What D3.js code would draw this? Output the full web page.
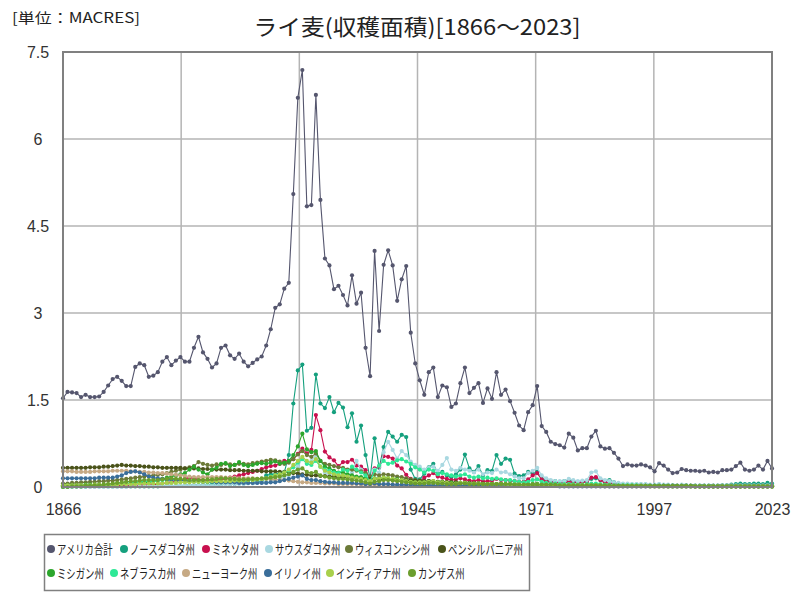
<!DOCTYPE html>
<html><head><meta charset="utf-8">
<script src="https://cdn.jsdelivr.net/npm/d3@7/dist/d3.min.js"></script>
<style>body{margin:0;background:#fff;} svg{display:block;font-family:"Noto Sans CJK JP","Noto Sans",sans-serif;}</style>
</head><body>
<svg id="chart" width="800" height="600"></svg>
<script>
const years = d3.range(1866, 2024);
const titleText = "ライ麦(収穫面積)[1866～2023]";
const unitText = "[単位：MACRES]";
const yTickValues = [0, 1.5, 3, 4.5, 6, 7.5];
const xTickLabels = ["1866","1892","1918","1945","1971","1997","2023"];
const seriesNames = ["アメリカ合計","ノースダコタ州","ミネソタ州","サウスダコタ州","ウィスコンシン州","ペンシルバニア州","ミシガン州","ネブラスカ州","ニューヨーク州","イリノイ州","インディアナ州","カンザス州"];
const seriesColors = ["#55566e","#15a07e","#c8104e","#a9d8e1","#6c7a38","#4a531a","#2ca62c","#2ee896","#c6a984","#3a6e9a","#a8d04c","#6c9e2e"];

const usTotal = [
1.53,1.64,1.63,1.62,1.55,1.59,1.55,1.55,1.56,1.64,
1.75,1.86,1.90,1.83,1.74,1.74,2.07,2.13,2.10,1.90,
1.92,1.98,2.16,2.24,2.10,2.18,2.24,2.16,2.16,2.40,
2.59,2.32,2.21,2.06,2.13,2.40,2.44,2.27,2.21,2.30,
2.16,2.08,2.14,2.20,2.25,2.44,2.72,3.09,3.15,3.42,
3.52,5.05,6.71,7.19,4.84,4.86,6.76,4.95,3.94,3.82,
3.41,3.47,3.31,3.13,3.65,3.16,3.35,2.40,1.91,4.07,
2.69,3.83,4.08,3.82,3.21,3.58,3.81,2.66,2.13,1.84,
1.59,1.98,2.06,1.55,1.75,1.72,1.38,1.44,1.79,2.06,
1.62,1.71,1.79,1.45,1.70,1.52,1.98,1.59,1.68,1.48,
1.28,1.06,0.98,1.29,1.41,1.74,1.05,0.95,0.78,0.74,
0.72,0.68,0.92,0.85,0.63,0.67,0.67,0.87,0.97,0.70,
0.66,0.67,0.59,0.49,0.36,0.39,0.37,0.37,0.39,0.37,
0.34,0.27,0.41,0.37,0.30,0.24,0.25,0.31,0.29,0.28,
0.28,0.27,0.28,0.25,0.26,0.25,0.29,0.29,0.30,0.36,
0.42,0.30,0.28,0.30,0.37,0.30,0.45,0.32];

const northDakota = [
0.01,0.01,0.01,0.01,0.01,0.01,0.01,0.01,0.01,0.01,
0.01,0.01,0.01,0.01,0.01,0.01,0.01,0.01,0.01,0.01,
0.01,0.01,0.02,0.02,0.02,0.02,0.02,0.03,0.03,0.03,
0.03,0.03,0.03,0.04,0.04,0.04,0.05,0.05,0.05,0.06,
0.06,0.07,0.07,0.08,0.10,0.20,0.22,0.22,0.24,0.25,
0.55,1.44,2.01,2.11,0.97,1.02,1.94,1.44,1.36,1.55,
1.29,1.45,1.37,1.03,1.27,0.78,1.06,0.55,0.14,0.84,
0.33,0.69,0.95,0.87,0.78,0.90,0.86,0.30,0.14,0.13,
0.23,0.34,0.40,0.23,0.26,0.20,0.17,0.22,0.30,0.56,
0.32,0.26,0.36,0.20,0.29,0.28,0.55,0.40,0.49,0.47,
0.23,0.19,0.20,0.26,0.23,0.26,0.14,0.12,0.10,0.10,
0.09,0.10,0.12,0.10,0.08,0.09,0.10,0.14,0.15,0.12,
0.10,0.12,0.08,0.05,0.04,0.04,0.04,0.04,0.04,0.04,
0.03,0.03,0.04,0.03,0.03,0.03,0.02,0.03,0.03,0.02,
0.02,0.02,0.02,0.02,0.02,0.02,0.03,0.03,0.04,0.05,
0.06,0.05,0.05,0.06,0.06,0.05,0.07,0.06];

const minnesota = [
0.01,0.01,0.01,0.01,0.01,0.01,0.01,0.01,0.02,0.02,
0.02,0.02,0.02,0.02,0.02,0.02,0.03,0.03,0.03,0.04,
0.04,0.05,0.06,0.07,0.08,0.10,0.12,0.14,0.16,0.15,
0.13,0.11,0.10,0.11,0.12,0.13,0.14,0.16,0.18,0.20,
0.22,0.24,0.26,0.28,0.31,0.34,0.36,0.37,0.40,0.45,
0.45,0.48,0.57,0.66,0.58,0.64,1.24,0.98,0.61,0.51,
0.46,0.36,0.43,0.43,0.47,0.37,0.35,0.29,0.13,0.32,
0.35,0.53,0.52,0.49,0.37,0.32,0.21,0.14,0.09,0.09,
0.16,0.20,0.24,0.18,0.16,0.14,0.12,0.13,0.15,0.13,
0.11,0.10,0.12,0.10,0.10,0.11,0.14,0.12,0.12,0.11,
0.10,0.09,0.09,0.13,0.20,0.24,0.13,0.10,0.08,0.08,
0.07,0.07,0.09,0.08,0.07,0.08,0.09,0.16,0.17,0.12,
0.08,0.07,0.05,0.04,0.03,0.03,0.03,0.03,0.03,0.03,
0.02,0.02,0.02,0.02,0.02,0.02,0.02,0.02,0.02,0.02,
0.02,0.02,0.02,0.02,0.02,0.02,0.02,0.02,0.02,0.02,
0.02,0.02,0.02,0.02,0.02,0.02,0.02,0.02];

const southDakota = [
0.00,0.00,0.00,0.00,0.00,0.00,0.00,0.00,0.00,0.00,
0.00,0.00,0.00,0.00,0.00,0.01,0.01,0.01,0.01,0.02,
0.02,0.02,0.02,0.02,0.02,0.03,0.03,0.03,0.03,0.03,
0.03,0.03,0.03,0.03,0.04,0.04,0.04,0.05,0.05,0.05,
0.05,0.06,0.06,0.07,0.08,0.09,0.10,0.12,0.14,0.18,
0.20,0.25,0.35,0.49,0.40,0.45,0.55,0.35,0.25,0.22,
0.18,0.20,0.22,0.20,0.25,0.45,0.30,0.18,0.08,0.30,
0.25,0.60,0.78,0.64,0.49,0.62,0.55,0.44,0.38,0.35,
0.30,0.33,0.35,0.28,0.38,0.50,0.30,0.28,0.33,0.30,
0.28,0.25,0.30,0.22,0.25,0.24,0.30,0.25,0.26,0.22,
0.18,0.15,0.15,0.24,0.28,0.33,0.20,0.15,0.12,0.10,
0.10,0.10,0.14,0.12,0.10,0.11,0.12,0.25,0.27,0.15,
0.12,0.10,0.08,0.07,0.06,0.06,0.05,0.05,0.05,0.05,
0.04,0.04,0.05,0.04,0.04,0.03,0.03,0.04,0.03,0.03,
0.03,0.03,0.03,0.03,0.03,0.03,0.03,0.03,0.03,0.03,
0.03,0.03,0.03,0.03,0.03,0.03,0.03,0.03];

const wisconsin = [
0.06,0.06,0.07,0.07,0.08,0.08,0.09,0.09,0.10,0.10,
0.11,0.11,0.12,0.13,0.14,0.15,0.16,0.17,0.18,0.19,
0.20,0.21,0.22,0.24,0.26,0.28,0.30,0.32,0.34,0.36,
0.43,0.40,0.38,0.37,0.39,0.38,0.40,0.39,0.38,0.40,
0.40,0.39,0.41,0.42,0.44,0.45,0.47,0.46,0.44,0.40,
0.42,0.48,0.56,0.62,0.55,0.52,0.58,0.45,0.40,0.38,
0.36,0.34,0.33,0.30,0.30,0.28,0.27,0.24,0.18,0.22,
0.20,0.22,0.21,0.20,0.18,0.17,0.15,0.13,0.12,0.11,
0.10,0.10,0.10,0.09,0.09,0.08,0.08,0.07,0.07,0.07,
0.06,0.06,0.06,0.05,0.05,0.05,0.05,0.05,0.04,0.04,
0.04,0.04,0.04,0.04,0.05,0.05,0.04,0.04,0.03,0.03,
0.03,0.03,0.03,0.03,0.03,0.03,0.03,0.03,0.03,0.03,
0.03,0.03,0.02,0.02,0.02,0.02,0.02,0.02,0.02,0.02,
0.02,0.02,0.02,0.02,0.02,0.02,0.02,0.02,0.02,0.02,
0.01,0.01,0.01,0.01,0.01,0.01,0.01,0.01,0.01,0.01,
0.01,0.01,0.01,0.01,0.01,0.01,0.01,0.01];

const pennsylvania = [
0.33,0.33,0.33,0.33,0.33,0.33,0.34,0.34,0.34,0.35,
0.35,0.36,0.37,0.38,0.37,0.37,0.36,0.36,0.35,0.35,
0.34,0.34,0.33,0.33,0.33,0.33,0.33,0.32,0.32,0.32,
0.32,0.31,0.31,0.30,0.30,0.30,0.30,0.29,0.29,0.29,
0.28,0.28,0.28,0.28,0.27,0.27,0.27,0.27,0.26,0.26,
0.25,0.24,0.23,0.22,0.21,0.20,0.20,0.19,0.19,0.18,
0.18,0.17,0.17,0.16,0.16,0.15,0.15,0.14,0.14,0.14,
0.13,0.13,0.13,0.12,0.12,0.12,0.11,0.11,0.11,0.10,
0.10,0.10,0.09,0.09,0.09,0.08,0.08,0.08,0.07,0.07,
0.07,0.06,0.06,0.06,0.05,0.05,0.05,0.05,0.04,0.04,
0.04,0.04,0.04,0.03,0.03,0.03,0.03,0.03,0.03,0.03,
0.03,0.03,0.03,0.03,0.03,0.03,0.03,0.03,0.03,0.03,
0.02,0.02,0.02,0.02,0.02,0.02,0.02,0.02,0.02,0.02,
0.02,0.02,0.02,0.02,0.02,0.02,0.02,0.02,0.02,0.02,
0.02,0.02,0.02,0.02,0.02,0.02,0.02,0.02,0.02,0.02,
0.02,0.02,0.02,0.02,0.02,0.02,0.02,0.02];

const michigan = [
0.03,0.03,0.03,0.03,0.03,0.04,0.04,0.04,0.04,0.04,
0.04,0.05,0.05,0.05,0.06,0.06,0.07,0.07,0.08,0.08,
0.10,0.12,0.14,0.16,0.18,0.20,0.22,0.24,0.30,0.35,
0.30,0.25,0.22,0.30,0.33,0.40,0.41,0.36,0.38,0.43,
0.38,0.36,0.38,0.40,0.41,0.40,0.42,0.44,0.40,0.42,
0.45,0.55,0.70,0.92,0.65,0.60,0.62,0.45,0.35,0.32,
0.28,0.25,0.25,0.22,0.20,0.18,0.17,0.15,0.10,0.15,
0.14,0.16,0.15,0.14,0.13,0.12,0.10,0.09,0.08,0.08,
0.08,0.09,0.09,0.08,0.08,0.07,0.07,0.06,0.07,0.07,
0.06,0.06,0.06,0.05,0.05,0.05,0.05,0.05,0.05,0.05,
0.05,0.04,0.04,0.04,0.05,0.05,0.04,0.04,0.03,0.03,
0.03,0.03,0.03,0.03,0.03,0.03,0.03,0.03,0.03,0.03,
0.02,0.02,0.02,0.02,0.02,0.02,0.02,0.02,0.02,0.02,
0.02,0.02,0.02,0.02,0.01,0.01,0.01,0.01,0.01,0.01,
0.01,0.01,0.01,0.01,0.01,0.01,0.01,0.01,0.01,0.01,
0.01,0.01,0.01,0.01,0.01,0.01,0.01,0.01];

const nebraska = [
0.00,0.00,0.01,0.01,0.01,0.01,0.02,0.02,0.02,0.03,
0.03,0.04,0.05,0.06,0.07,0.07,0.08,0.09,0.10,0.10,
0.10,0.11,0.12,0.12,0.13,0.12,0.12,0.11,0.10,0.10,
0.09,0.09,0.08,0.08,0.08,0.08,0.09,0.09,0.10,0.10,
0.10,0.11,0.12,0.12,0.13,0.15,0.18,0.20,0.22,0.25,
0.28,0.34,0.42,0.48,0.40,0.38,0.45,0.35,0.30,0.28,
0.25,0.24,0.30,0.28,0.35,0.30,0.25,0.20,0.10,0.28,
0.37,0.45,0.40,0.42,0.46,0.48,0.44,0.40,0.34,0.30,
0.25,0.30,0.28,0.22,0.24,0.22,0.20,0.18,0.20,0.22,
0.18,0.16,0.18,0.15,0.16,0.14,0.15,0.13,0.12,0.12,
0.10,0.09,0.08,0.09,0.12,0.13,0.09,0.07,0.06,0.06,
0.05,0.05,0.05,0.05,0.04,0.04,0.05,0.06,0.06,0.05,
0.04,0.04,0.03,0.03,0.03,0.03,0.03,0.03,0.02,0.02,
0.02,0.02,0.02,0.02,0.02,0.02,0.02,0.02,0.02,0.02,
0.02,0.02,0.02,0.02,0.02,0.02,0.02,0.02,0.02,0.02,
0.02,0.02,0.02,0.02,0.02,0.02,0.02,0.02];

const newYork = [
0.27,0.27,0.27,0.26,0.26,0.26,0.26,0.27,0.27,0.27,
0.27,0.28,0.28,0.28,0.28,0.27,0.27,0.26,0.26,0.25,
0.25,0.24,0.24,0.23,0.22,0.21,0.20,0.19,0.18,0.17,
0.17,0.17,0.17,0.17,0.17,0.17,0.16,0.16,0.16,0.15,
0.15,0.15,0.15,0.14,0.14,0.14,0.13,0.13,0.12,0.12,
0.11,0.10,0.09,0.08,0.08,0.07,0.07,0.07,0.06,0.06,
0.06,0.05,0.05,0.05,0.05,0.05,0.04,0.04,0.04,0.04,
0.04,0.04,0.04,0.04,0.03,0.03,0.03,0.03,0.03,0.03,
0.03,0.03,0.03,0.03,0.03,0.03,0.03,0.03,0.03,0.03,
0.02,0.02,0.02,0.02,0.02,0.02,0.02,0.02,0.02,0.02,
0.02,0.02,0.02,0.02,0.02,0.02,0.02,0.02,0.02,0.02,
0.02,0.02,0.02,0.02,0.02,0.02,0.02,0.02,0.02,0.02,
0.01,0.01,0.01,0.01,0.01,0.01,0.01,0.01,0.01,0.01,
0.01,0.01,0.01,0.01,0.01,0.01,0.01,0.01,0.01,0.01,
0.01,0.01,0.01,0.01,0.01,0.01,0.01,0.01,0.01,0.01,
0.01,0.01,0.01,0.01,0.01,0.01,0.01,0.01];

const illinois = [
0.15,0.15,0.15,0.15,0.15,0.15,0.15,0.15,0.16,0.16,
0.16,0.16,0.18,0.20,0.24,0.26,0.27,0.25,0.22,0.18,
0.16,0.15,0.14,0.13,0.12,0.12,0.11,0.11,0.10,0.10,
0.10,0.09,0.09,0.09,0.08,0.08,0.08,0.08,0.08,0.07,
0.07,0.07,0.07,0.07,0.07,0.07,0.08,0.08,0.10,0.12,
0.14,0.16,0.18,0.20,0.14,0.12,0.12,0.10,0.09,0.08,
0.08,0.07,0.07,0.07,0.07,0.06,0.06,0.05,0.05,0.06,
0.05,0.05,0.05,0.04,0.04,0.04,0.04,0.04,0.03,0.03,
0.03,0.03,0.03,0.03,0.03,0.03,0.03,0.03,0.03,0.03,
0.03,0.03,0.03,0.02,0.02,0.02,0.02,0.02,0.02,0.02,
0.02,0.02,0.02,0.02,0.02,0.02,0.02,0.02,0.02,0.02,
0.01,0.01,0.01,0.01,0.01,0.01,0.01,0.01,0.01,0.01,
0.01,0.01,0.01,0.01,0.01,0.01,0.01,0.01,0.01,0.01,
0.01,0.01,0.01,0.01,0.01,0.01,0.01,0.01,0.01,0.01,
0.01,0.01,0.01,0.01,0.01,0.01,0.01,0.01,0.01,0.01,
0.01,0.01,0.01,0.01,0.01,0.01,0.01,0.01];

const indiana = [
0.03,0.03,0.03,0.03,0.03,0.03,0.03,0.04,0.04,0.04,
0.04,0.04,0.04,0.05,0.05,0.05,0.05,0.06,0.06,0.06,
0.06,0.06,0.06,0.07,0.07,0.07,0.08,0.08,0.08,0.09,
0.09,0.09,0.09,0.10,0.10,0.10,0.10,0.10,0.11,0.11,
0.11,0.12,0.12,0.13,0.14,0.15,0.17,0.20,0.22,0.25,
0.30,0.38,0.45,0.52,0.45,0.42,0.48,0.35,0.28,0.25,
0.22,0.20,0.20,0.18,0.16,0.15,0.14,0.12,0.10,0.14,
0.14,0.16,0.15,0.14,0.12,0.12,0.10,0.09,0.08,0.08,
0.08,0.09,0.10,0.08,0.08,0.07,0.06,0.06,0.07,0.07,
0.06,0.06,0.06,0.05,0.05,0.05,0.05,0.05,0.04,0.04,
0.04,0.04,0.03,0.03,0.04,0.04,0.03,0.03,0.03,0.03,
0.03,0.03,0.03,0.03,0.03,0.03,0.03,0.03,0.03,0.03,
0.02,0.02,0.02,0.02,0.02,0.02,0.02,0.02,0.02,0.02,
0.01,0.01,0.01,0.01,0.01,0.01,0.01,0.01,0.01,0.01,
0.01,0.01,0.01,0.01,0.01,0.01,0.01,0.01,0.01,0.01,
0.01,0.01,0.01,0.01,0.01,0.01,0.01,0.01];

const kansas = [
0.00,0.00,0.01,0.01,0.01,0.02,0.02,0.03,0.03,0.04,
0.05,0.06,0.07,0.08,0.09,0.10,0.10,0.11,0.12,0.12,
0.12,0.12,0.13,0.14,0.15,0.14,0.14,0.13,0.12,0.12,
0.12,0.12,0.13,0.13,0.14,0.15,0.15,0.14,0.14,0.13,
0.13,0.13,0.14,0.14,0.15,0.15,0.16,0.17,0.18,0.20,
0.22,0.26,0.30,0.32,0.26,0.24,0.26,0.20,0.18,0.16,
0.15,0.14,0.14,0.13,0.12,0.11,0.10,0.08,0.06,0.09,
0.10,0.12,0.12,0.11,0.10,0.09,0.08,0.07,0.06,0.06,
0.06,0.07,0.07,0.06,0.06,0.05,0.05,0.05,0.06,0.06,
0.05,0.05,0.05,0.05,0.05,0.05,0.05,0.05,0.05,0.05,
0.04,0.04,0.04,0.04,0.04,0.04,0.04,0.04,0.04,0.04,
0.03,0.03,0.03,0.03,0.03,0.03,0.03,0.03,0.03,0.03,
0.03,0.03,0.02,0.02,0.02,0.02,0.02,0.02,0.02,0.02,
0.02,0.02,0.02,0.02,0.02,0.02,0.02,0.02,0.02,0.02,
0.01,0.01,0.01,0.01,0.01,0.01,0.01,0.01,0.01,0.01,
0.01,0.01,0.01,0.01,0.01,0.01,0.01,0.01];

const seriesValues = [usTotal, northDakota, minnesota, southDakota, wisconsin, pennsylvania, michigan, nebraska, newYork, illinois, indiana, kansas];

const svg = d3.select("#chart");
const plotLeft = 63, plotRight = 772, plotTop = 52, plotBottom = 487;
const x = d3.scaleLinear().domain([1866, 2023]).range([plotLeft, plotRight]);
const y = d3.scaleLinear().domain([0, 7.5]).range([plotBottom, plotTop]);
const xTickValues = xTickLabels.map((d, i) => 1866 + i * (2023 - 1866) / 6);

svg.append("rect").attr("width", 800).attr("height", 600).attr("fill", "#fff");

// gridlines
const grid = svg.append("g");
grid.selectAll("line.v").data(xTickValues.slice(1, -1)).join("line").attr("class", "v")
  .attr("x1", d => x(d)).attr("x2", d => x(d)).attr("y1", plotTop).attr("y2", plotBottom)
  .attr("stroke", "#b4b4b4").attr("stroke-width", 1.5);
grid.selectAll("line.h").data(yTickValues.slice(1, -1)).join("line").attr("class", "h")
  .attr("x1", plotLeft).attr("x2", plotRight).attr("y1", d => y(d)).attr("y2", d => y(d))
  .attr("stroke", "#b4b4b4").attr("stroke-width", 1.5);

// series
const line = d3.line().x((d, i) => x(years[i])).y(d => y(d));
seriesValues.forEach((vals, si) => {
  const g = svg.append("g");
  g.append("path").datum(vals).attr("d", line).attr("fill", "none")
    .attr("stroke", seriesColors[si]).attr("stroke-width", 1.1);
  g.selectAll("circle").data(vals).join("circle")
    .attr("cx", (d, i) => x(years[i])).attr("cy", d => y(d)).attr("r", 2.1)
    .attr("fill", seriesColors[si]);
});

// plot border
svg.append("rect").attr("x", plotLeft).attr("y", plotTop).attr("width", plotRight - plotLeft).attr("height", plotBottom - plotTop)
  .attr("fill", "none").attr("stroke", "#808080").attr("stroke-width", 2);

// axes
const yAxis = d3.axisLeft(y).tickValues(yTickValues).tickSize(0).tickFormat(d => String(d));
const ya = svg.append("g").attr("transform", `translate(${plotLeft},0)`).call(yAxis);
ya.select(".domain").remove();
ya.selectAll("text").attr("x", -25).attr("text-anchor", "middle")
  .style("font-family", "'Liberation Sans',sans-serif").style("font-size", "16px").attr("fill", "#333");

const xAxis = d3.axisBottom(x).tickValues(xTickValues).tickSize(0).tickFormat((d, i) => xTickLabels[i]);
const xa = svg.append("g").attr("transform", `translate(0,${plotBottom})`).call(xAxis);
xa.select(".domain").remove();
xa.selectAll("text").attr("y", 22).attr("dy", "0.35em")
  .style("font-family", "'Liberation Sans',sans-serif").style("font-size", "16px").attr("fill", "#333");

// title
svg.append("text").attr("x", 417).attr("y", 27).attr("dy", "0.35em").attr("text-anchor", "middle")
  .attr("font-size", 22).attr("fill", "#222").attr("textLength", 327).attr("lengthAdjust", "spacingAndGlyphs")
  .text(titleText);
svg.append("text").attr("x", 12).attr("y", 18).attr("dy", "0.35em")
  .attr("font-size", 14).attr("fill", "#222").attr("textLength", 128).attr("lengthAdjust", "spacingAndGlyphs")
  .text(unitText);

// legend
const legendX = [51, 124, 206, 269, 349, 442, 51, 114, 186, 268, 330, 412];
const legendRow = [549, 549, 549, 549, 549, 549, 573, 573, 573, 573, 573, 573];
svg.append("rect").attr("x", 44.5).attr("y", 534.5).attr("width", 485).attr("height", 56)
  .attr("fill", "#fff").attr("stroke", "#808080").attr("stroke-width", 1.5);
const lg = svg.append("g").selectAll("g").data(seriesNames).join("g")
  .attr("transform", (d, i) => `translate(${legendX[i]},${legendRow[i]})`);
lg.append("circle").attr("r", 4).attr("fill", (d, i) => seriesColors[i]);
lg.append("text").attr("transform", "translate(6,0) scale(0.72,1)").attr("dy", "0.35em")
  .attr("font-size", 13).attr("fill", "#222")
  .text(d => d);
</script>
</body></html>
